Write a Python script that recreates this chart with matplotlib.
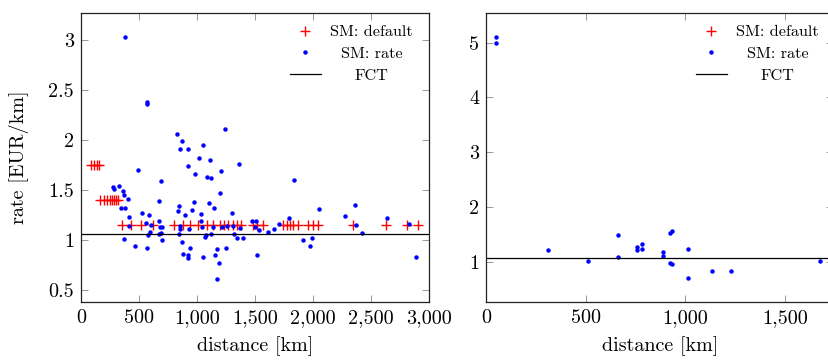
import matplotlib
matplotlib.use("Agg")
import matplotlib.pyplot as plt
from matplotlib.ticker import FuncFormatter

plt.rcParams['font.family'] = ['cmr10', 'DejaVu Serif']
plt.rcParams['axes.formatter.use_mathtext'] = True

# left panel: SM default (red crosses)
dist_def = [90, 115, 135, 155,
            165, 200, 225, 250, 265, 285, 300, 320,
            353, 428, 517, 623, 804, 877, 940, 1011, 1089, 1141, 1198, 1235,
            1270, 1313, 1342, 1379, 1480, 1515, 1566, 1739, 1773, 1802, 1830,
            1873, 1960, 2003, 2046, 2347, 2629, 2808, 2908]
rate_def = [1.75, 1.75, 1.75, 1.75,
            1.40, 1.40, 1.40, 1.40, 1.40, 1.40, 1.40, 1.40,
            1.15, 1.15, 1.15, 1.15, 1.15, 1.15, 1.15, 1.15, 1.15, 1.15, 1.15, 1.15,
            1.15, 1.15, 1.15, 1.15, 1.15, 1.15, 1.15, 1.15, 1.15, 1.15, 1.15,
            1.15, 1.15, 1.15, 1.15, 1.15, 1.15, 1.15, 1.15]

# left panel: SM rate (blue dots)
dist_rate = [379, 566, 572, 825, 1241, 874, 856, 920, 1055, 1014, 1115, 1365,
             925, 980, 1204, 1089, 1118, 1198, 489, 687, 279, 284, 330, 359,
             371, 402, 670, 348, 382, 523, 586, 417, 675, 563, 601, 411,
             681, 698, 592, 580, 690, 675, 374, 701, 463, 572,
             848, 836, 977, 1101, 954, 1144, 897, 1034, 1305, 1034, 853, 853,
             931, 1046, 1141, 1213, 1261, 1313, 1371, 1477, 1509, 1497, 1537, 1615,
             842, 1080, 1069, 1118, 1316, 1342, 1394, 874, 942, 1250, 882, 920,
             920, 1049, 1158, 1175, 1190, 1172, 1517,
             1836, 2055, 2359, 2279, 1796, 1707, 1667, 2373, 1911, 1989, 1977,
             2420, 2638, 2828, 2888]
rate_rate = [3.03, 2.38, 2.36, 2.06, 2.11, 1.99, 1.91, 1.91, 1.95, 1.82, 1.80, 1.76,
             1.74, 1.66, 1.69, 1.63, 1.62, 1.47, 1.70, 1.59, 1.53, 1.51, 1.54, 1.49,
             1.45, 1.41, 1.39, 1.32, 1.32, 1.27, 1.25, 1.23, 1.19, 1.17, 1.15, 1.14,
             1.13, 1.13, 1.08, 1.05, 1.07, 1.06, 1.01, 1.00, 0.94, 0.92,
             1.34, 1.29, 1.38, 1.37, 1.30, 1.32, 1.25, 1.26, 1.27, 1.19, 1.14, 1.11,
             1.11, 1.13, 1.13, 1.13, 1.14, 1.14, 1.12, 1.19, 1.19, 1.13, 1.10, 1.08,
             1.06, 1.05, 1.03, 1.06, 1.06, 1.02, 1.02, 0.98, 0.92, 0.92, 0.86, 0.85,
             0.82, 0.83, 0.85, 0.91, 0.77, 0.61, 0.85,
             1.60, 1.31, 1.35, 1.24, 1.22, 1.16, 1.11, 1.15, 1.00, 1.02, 0.94,
             1.07, 1.22, 1.16, 0.83]

# right panel: SM rate (blue dots)
dist_rate2 = [49, 49, 308, 513, 662, 662, 757, 757, 784, 784, 890, 890,
              923, 933, 923, 935, 1014, 1014, 1133, 1230, 1678]
rate_rate2 = [5.11, 5.00, 1.21, 1.01, 1.49, 1.09, 1.28, 1.21, 1.32, 1.24, 1.18, 1.10,
              1.53, 1.57, 0.98, 0.97, 1.23, 0.70, 0.84, 0.84, 1.01]

fct = 1.065

fig = plt.figure(figsize=(8.29, 3.6), dpi=100)
W, H = 829.0, 360.0
ax1 = fig.add_axes([81 / W, 58 / H, 348 / W, 289 / H])
ax2 = fig.add_axes([486.3 / W, 58 / H, 347.2 / W, 289 / H])

fmt = FuncFormatter(lambda v, p: f"{v:,.0f}")
yfmt = FuncFormatter(lambda v, p: f"{v:g}")


def style(ax):
    ax.tick_params(direction='in', length=5, width=0.6, color='#888888',
                   top=True, right=True, labelsize=14.5, pad=5)
    for s in ax.spines.values():
        s.set_linewidth(0.9)
        s.set_color('#222222')
    ax.xaxis.set_major_formatter(fmt)
    ax.yaxis.set_major_formatter(yfmt)
    ax.set_xlabel('distance [km]', fontsize=14.5, labelpad=7)


def legend(ax, anchor):
    leg = ax.legend(loc='upper right', bbox_to_anchor=anchor, frameon=False,
                    fontsize=11.7, handlelength=1.9, handletextpad=0.6,
                    labelspacing=0.45, borderaxespad=0, borderpad=0)
    fig.canvas.draw()
    r = fig.canvas.get_renderer()
    texts = leg.get_texts()
    widths = [t.get_window_extent(r).width for t in texts]
    for t, w in zip(texts, widths):
        t.set_x((max(widths) - w) / 2)
    return leg


# left
ax1.plot(dist_def, rate_def, '+', color='red', ms=6.5, mew=1.0, label='SM: default')
ax1.plot(dist_rate, rate_rate, 'o', color='blue', ms=3.2, mew=0, label='SM: rate')
ax1.axhline(fct, color='black', lw=0.9, label='FCT')
ax1.set_xlim(0, 3000)
ax1.set_ylim(0.38, 3.27)
ax1.set_xticks([0, 500, 1000, 1500, 2000, 2500, 3000])
ax1.set_yticks([0.5, 1, 1.5, 2, 2.5, 3])
ax1.set_ylabel('rate [EUR/km]', fontsize=14.5, labelpad=14)
style(ax1)

# right
ax2.plot([], [], '+', color='red', ms=6.5, mew=1.0, label='SM: default')
ax2.plot(dist_rate2, rate_rate2, 'o', color='blue', ms=3.2, mew=0, label='SM: rate')
ax2.axhline(fct, color='black', lw=0.9, label='FCT')
ax2.set_xlim(0, 1745)
ax2.set_ylim(0.27, 5.54)
ax2.set_xticks([0, 500, 1000, 1500])
ax2.set_yticks([1, 2, 3, 4, 5])
style(ax2)

legend(ax1, ((413 - 81) / 348, (360 - 25 - 58) / 289))
legend(ax2, ((819 - 486.3) / 347.2, (360 - 25 - 58) / 289))

fig.savefig('out.png', dpi=100)
